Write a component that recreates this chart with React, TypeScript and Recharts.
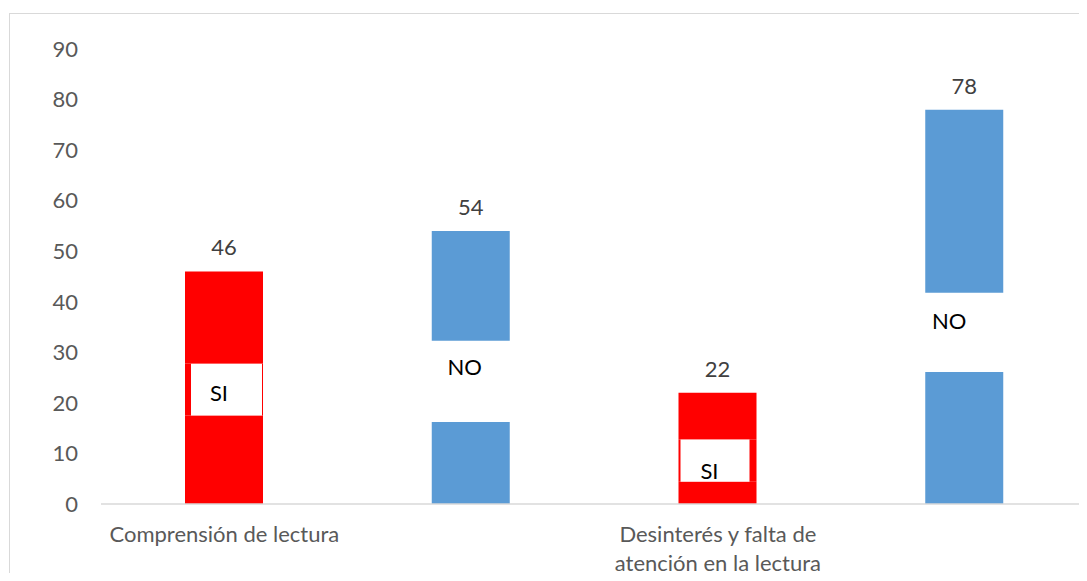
import { BarChart, Bar, XAxis, YAxis, Cell, LabelList } from "recharts";

const categories = ["Comprensión de lectura", "", "Desinterés y falta de atención en la lectura", ""];
const totals = [46, 54, 22, 78];
const answers = ["SI", "NO", "SI", "NO"];
// the white text boxes laid over the bars (value range they cover, value where the word sits)
const boxLow = [17.5, 16.2, 4.4, 26.1];
const boxHigh = [27.8, 32.3, 12.8, 41.8];
const boxTextAt = [22, 27.1, 6.7, 36.2];
const yTicks = [0, 10, 20, 30, 40, 50, 60, 70, 80, 90];

const RED = "#FF0000";
const BLUE = "#5B9BD5";
const FONT = "Lato, 'Open Sans', sans-serif";
const FS = 22;

// horizontal nudges for the overlay boxes, px
const boxStyle = [
  { inL: 6, inR: 1, dx: -5 },
  { inL: 0, inR: 0, dx: -6 },
  { inL: 2, inR: 7, dx: -8 },
  { inL: 0, inR: 0, dx: -15 },
];

const data = categories.map((name, i) => ({
  name,
  base: boxLow[i],
  mid: boxHigh[i] - boxLow[i],
  top: totals[i] - boxHigh[i],
  total: totals[i],
  answer: answers[i],
}));

const colorOf = (i: number) => (answers[i] === "SI" ? RED : BLUE);

// rough greedy wrap, ~0.5em per character
function wrap(label: string, maxChars: number) {
  const lines: string[] = [];
  let cur = "";
  for (const w of label.split(" ")) {
    const next = cur ? cur + " " + w : w;
    if (next.length > maxChars && cur) {
      lines.push(cur);
      cur = w;
    } else cur = next;
  }
  if (cur) lines.push(cur);
  return lines;
}

const BoxShape = (props: any) => {
  const { x, y, width, height, index } = props;
  const i = index;
  const ppu = height / (boxHigh[i] - boxLow[i]);
  const ty = y + height - (boxTextAt[i] - boxLow[i]) * ppu;
  const s = boxStyle[i];
  const isSi = answers[i] === "SI";
  return (
    <g>
      {isSi && <rect x={x} y={y} width={width} height={height} fill={RED} />}
      {isSi && (
        <rect x={x + s.inL} y={y} width={width - s.inL - s.inR} height={height} fill="#fff" />
      )}
      <text
        x={x + width / 2 + s.dx}
        y={ty}
        textAnchor="middle"
        dominantBaseline="central"
        fontFamily={FONT}
        fontSize={FS}
        fill="#000"
      >
        {answers[i]}
      </text>
    </g>
  );
};

const CategoryTick = (props: any) => {
  const { x, y, payload } = props;
  if (!payload.value) return null;
  const lines = wrap(payload.value, 22);
  return (
    <text x={x} y={y} textAnchor="middle" fontFamily={FONT} fontSize={FS} fill="#595959">
      {lines.map((l, k) => (
        <tspan key={k} x={x} dy={k === 0 ? 20 : 29}>
          {l}
        </tspan>
      ))}
    </text>
  );
};

export default function App() {
  return (
    <div style={{ position: "relative", margin: -8, width: 1087, height: 581, overflow: "hidden", background: "#fff" }}>
      <div
        style={{
          position: "absolute",
          left: 9,
          top: 13,
          width: 1200,
          height: 700,
          border: "1.5px solid #d9d9d9",
        }}
      />
      <div style={{ position: "absolute", left: 0, top: 0 }}>
        <BarChart
          width={1088}
          height={581}
          data={data}
          margin={{ top: 49, right: 0, left: 0, bottom: 17 }}
          barSize={78}
        >
          <XAxis
            dataKey="name"
            axisLine={{ stroke: "#d9d9d9", strokeWidth: 1.5 }}
            tickLine={false}
            tick={<CategoryTick />}
            tickMargin={12}
            height={60}
            interval={0}
          />
          <YAxis
            domain={[0, 90]}
            ticks={yTicks}
            axisLine={false}
            tickLine={false}
            tickSize={0}
            tickMargin={23}
            width={101}
            tick={{ fill: "#595959", fontSize: FS, fontFamily: FONT }}
          />
          <Bar dataKey="base" stackId="a" isAnimationActive={false}>
            {data.map((_, i) => (
              <Cell key={i} fill={colorOf(i)} />
            ))}
          </Bar>
          <Bar dataKey="mid" stackId="a" shape={<BoxShape />} isAnimationActive={false} />
          <Bar dataKey="top" stackId="a" isAnimationActive={false}>
            {data.map((_, i) => (
              <Cell key={i} fill={colorOf(i)} />
            ))}
            <LabelList
              dataKey="total"
              position="top"
              offset={16}
              fill="#404040"
              fontSize={FS}
              fontFamily={FONT}
            />
          </Bar>
        </BarChart>
      </div>
    </div>
  );
}
